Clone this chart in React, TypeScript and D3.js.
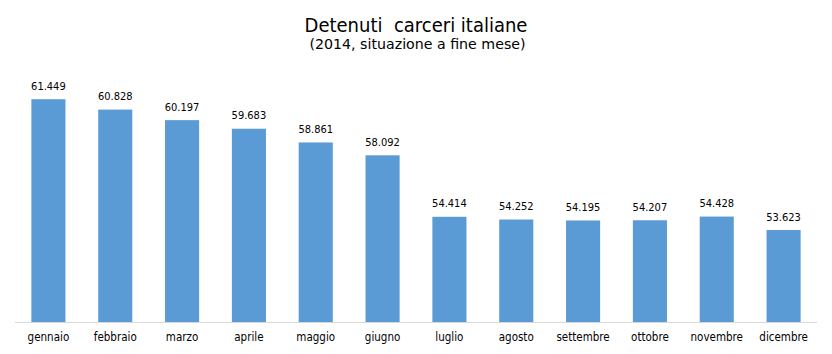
import React from "react";
import * as d3 from "d3";

const months = ["gennaio","febbraio","marzo","aprile","maggio","giugno","luglio","agosto","settembre","ottobre","novembre","dicembre"];
const values = [61449,60828,60197,59683,58861,58092,54414,54252,54195,54207,54428,53623];
const title = "Detenuti  carceri italiane";
const subtitle = "(2014, situazione a fine mese)";

const W = 832, H = 354;
const FONT = "'DejaVu Sans Condensed', 'DejaVu Sans', sans-serif";

export default function App() {
  const x = d3.scaleBand<string>().domain(months).range([15, 817]).paddingInner(0.49).paddingOuter(0.245);
  const y = d3.scaleLinear().domain([48120, 62000]).range([322, 90]);
  const fmt = (v: number) => d3.format(",")(v).replace(/,/g, ".");
  return (
    <svg width={W} height={H} style={{ position: "absolute", left: 0, top: 0, background: "#fff" }} fontFamily={FONT}>
      <rect x={0} y={0} width={W} height={H} fill="#fff" />
      <text x={416} y={32} textAnchor="middle" fontSize={20} fill="#000" style={{ whiteSpace: "pre" }}>{title}</text>
      <text x={417.5} y={48.5} textAnchor="middle" fontSize={14.2} fontFamily="'DejaVu Sans', sans-serif" fill="#000">{subtitle}</text>
      {months.map((m, i) => (
        <g key={m}>
          <rect x={x(m)} y={y(values[i])} width={x.bandwidth()} height={322 - y(values[i])} fill="#5b9bd5" />
          <text x={(x(m) as number) + x.bandwidth() / 2} y={y(values[i]) - 9.5} textAnchor="middle" fontSize={11} fill="#000">{fmt(values[i])}</text>
          <text x={(x(m) as number) + x.bandwidth() / 2} y={341} textAnchor="middle" fontSize={11.5} fill="#000">{m}</text>
        </g>
      ))}
      <line x1={15} x2={817} y1={322.5} y2={322.5} stroke="#d9d9d9" strokeWidth={1} />
    </svg>
  );
}
